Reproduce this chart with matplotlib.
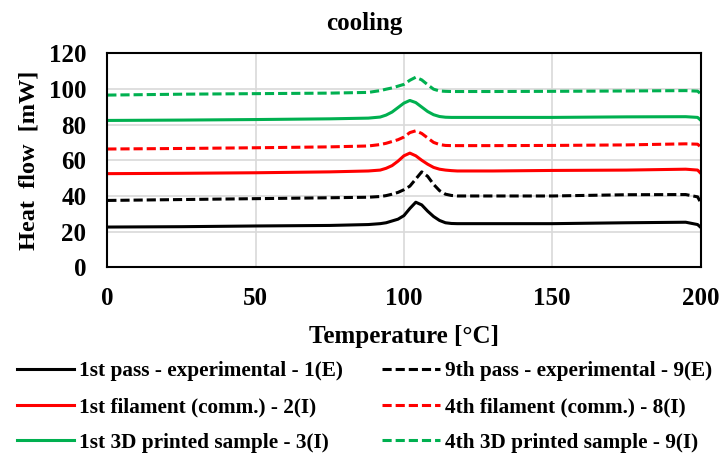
import numpy as np
import matplotlib.pyplot as plt

plt.rcParams['font.family'] = ['Liberation Serif', 'DejaVu Serif']
plt.rcParams['font.weight'] = 'bold'

# temperature points [°C]
temp = [0, 25, 50, 75, 88, 92, 94, 96, 98, 100, 102, 104, 106, 108, 110,
        112, 114, 116, 118, 130, 150, 175, 195, 199, 200]

# heat flow curves [mW]
pass1_exp = [22.6, 22.8, 23.2, 23.5, 24.0, 24.5, 25.0, 26.0, 27.0, 29.0, 33.0, 36.5, 35.0,
             31.5, 28.5, 26.3, 25.0, 24.6, 24.5, 24.5, 24.5, 25.0, 25.3, 24.0, 22.5]
pass9_exp = [37.5, 38.0, 38.5, 39.0, 39.3, 39.7, 40.2, 41.0, 42.0, 43.5, 45.5, 49.5, 53.5,
             51.0, 46.5, 43.0, 41.0, 40.3, 40.0, 40.0, 40.0, 40.7, 40.8, 39.5, 36.5]
fil1 = [52.5, 52.7, 53.0, 53.5, 54.0, 54.5, 55.5, 57.0, 59.5, 62.5, 64.0, 62.5, 60.0,
        57.8, 56.0, 55.0, 54.5, 54.2, 54.0, 54.0, 54.3, 54.5, 55.0, 54.5, 52.8]
fil4 = [66.3, 66.6, 67.0, 67.5, 68.0, 68.8, 69.5, 70.5, 71.5, 73.0, 75.5, 76.5, 75.0,
        72.5, 70.0, 68.8, 68.3, 68.2, 68.2, 68.2, 68.3, 68.6, 69.2, 69.0, 67.5]
print1 = [82.3, 82.5, 82.8, 83.2, 83.6, 84.2, 85.3, 87.0, 89.5, 92.0, 93.5, 92.3, 89.8,
          87.3, 85.5, 84.5, 84.1, 84.0, 84.0, 84.0, 84.0, 84.3, 84.4, 84.0, 82.5]
print4 = [96.5, 97.0, 97.3, 97.6, 98.0, 99.0, 99.8, 100.5, 101.5, 102.5, 104.8, 106.5, 105.0,
          102.3, 99.8, 98.8, 98.6, 98.5, 98.5, 98.5, 98.6, 98.8, 99.0, 98.7, 97.3]

labels = ["1st pass - experimental - 1(E)", "1st filament (comm.) - 2(I)",
          "1st 3D printed sample - 3(I)", "9th pass - experimental - 9(E)",
          "4th filament (comm.) - 8(I)", "4th 3D printed sample - 9(I)"]

green = '#00B050'
dash = (0, (3, 1.3))

fig = plt.figure(figsize=(7.2, 4.54), dpi=100)
ax = fig.add_axes([0.149, 0.411, 0.824, 0.472])

ax.plot(temp, pass1_exp, color='black', lw=2.2, label=labels[0])
ax.plot(temp, fil1, color='red', lw=2.2, label=labels[1])
ax.plot(temp, print1, color=green, lw=2.2, label=labels[2])
ax.plot(temp, pass9_exp, color='black', lw=2.2, ls=dash, label=labels[3])
ax.plot(temp, fil4, color='red', lw=2.2, ls=dash, label=labels[4])
ax.plot(temp, print4, color=green, lw=2.2, ls=dash, label=labels[5])

ax.set_xlim(0, 200)
ax.set_ylim(0, 120)
ax.set_xticks(np.arange(0, 201, 50))
ax.set_yticks(np.arange(0, 121, 20))
ax.grid(True, color='#D9D9D9', lw=1.2)
ax.set_axisbelow(True)
ax.tick_params(length=0, labelsize=18)
ax.tick_params(axis='y', pad=15)
ax.tick_params(axis='x', pad=14)
for s in ax.spines.values():
    s.set_linewidth(1.5)

ax.set_xlabel("Temperature [°C]", fontsize=18, fontweight='bold', labelpad=11)
ax.set_ylabel("Heat  flow  [mW]", fontsize=17.5, fontweight='bold', labelpad=7)
fig.text(0.506, 0.948, "cooling", ha='center', va='center', fontsize=18, fontweight='bold')

fig.legend(loc='upper left', bbox_to_anchor=(17 / 720, 0.204), ncol=2, frameon=False,
           handlelength=2.7, handletextpad=0.23, columnspacing=1.85,
           labelspacing=0.74, borderpad=0, borderaxespad=0,
           prop={'weight': 'bold', 'size': 15.3})

fig.savefig('out.png', dpi=100)
